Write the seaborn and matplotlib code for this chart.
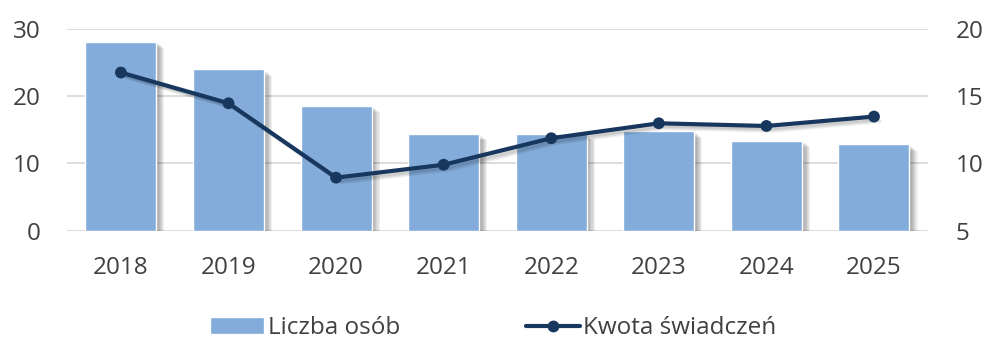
import matplotlib
matplotlib.use("Agg")
import matplotlib.pyplot as plt
import matplotlib.patheffects as pe
import numpy as np
import pandas as pd
import seaborn as sns

# Data
years = ["2018", "2019", "2020", "2021", "2022", "2023", "2024", "2025"]
liczba_osob = [28.1, 24.0, 18.6, 14.4, 14.4, 14.8, 13.4, 12.9]
kwota_swiadczen = [16.75, 14.47, 8.94, 9.9, 11.87, 12.98, 12.78, 13.48]

bar_label = "Liczba osób"
line_label = "Kwota świadczeń"

bar_color = "#83ACDA"
line_color = "#17375E"
text_color = "#404040"
font_size = 17.5

sns.set_theme(style="white")
plt.rcParams["font.family"] = ["Open Sans", "DejaVu Sans"]

df = pd.DataFrame({"rok": years, "osoby": liczba_osob, "kwota": kwota_swiadczen})

fig = plt.figure(figsize=(9.87, 3.39), dpi=100)
ax = fig.add_axes([0.068, 0.3195, 0.872, 0.5955])

# soft drop shadow built from several faint offset layers
def soft_shadow(kind, steps=6, alpha=0.06):
    layers = []
    for i in range(1, steps + 1):
        off = (1.0 + i * 0.8, -(0.6 + i * 0.7))
        if kind == "patch":
            layers.append(pe.SimplePatchShadow(offset=off, shadow_rgbFace="#000000", alpha=alpha))
        else:
            layers.append(pe.SimpleLineShadow(offset=off, shadow_color="#000000", alpha=alpha))
    layers.append(pe.Normal())
    return layers

sns.barplot(data=df, x="rok", y="osoby", color=bar_color, width=0.66,
            saturation=1, ax=ax, label=bar_label, zorder=3)
for p in ax.patches:
    p.set_path_effects(soft_shadow("patch"))

ax.set_ylim(0, 30)
ax.set_yticks([0, 10, 20, 30])
ax.yaxis.grid(True, color="#D9D9D9", linewidth=1.3, zorder=0)
ax.set_axisbelow(True)
ax.set_xlabel("")
ax.set_ylabel("")
for s in ax.spines.values():
    s.set_visible(False)
ax.tick_params(axis="both", length=0, labelsize=font_size, colors=text_color)
ax.tick_params(axis="x", pad=18)
ax.tick_params(axis="y", pad=19)

ax2 = ax.twinx()
positions = np.arange(len(years))
sns.lineplot(x=positions, y=kwota_swiadczen, ax=ax2, color=line_color,
             linewidth=3, marker="o", markersize=8.5, markeredgewidth=0,
             label=line_label, zorder=4,
             path_effects=soft_shadow("line", steps=4, alpha=0.06))
ax2.set_ylim(5, 20)
ax2.set_yticks([5, 10, 15, 20])
ax2.set_ylabel("")
for s in ax2.spines.values():
    s.set_visible(False)
ax2.tick_params(axis="y", length=0, labelsize=font_size, colors=text_color, pad=20)
ax2.grid(False)
ax.set_xlim(-0.5, len(years) - 0.5)

h1, l1 = ax.get_legend_handles_labels()
h2, l2 = ax2.get_legend_handles_labels()
if ax.get_legend():
    ax.get_legend().remove()
if ax2.get_legend():
    ax2.get_legend().remove()

leg = fig.legend(h1 + h2, l1 + l2, loc="center", bbox_to_anchor=(0.5, 0.032),
                 ncol=2, frameon=False, fontsize=font_size, labelcolor=text_color,
                 handlelength=2.2, handletextpad=0.15, columnspacing=5.2,
                 handleheight=0.7)
for h in leg.legend_handles:
    h.set_path_effects([])

fig.savefig("out.png", dpi=100)
